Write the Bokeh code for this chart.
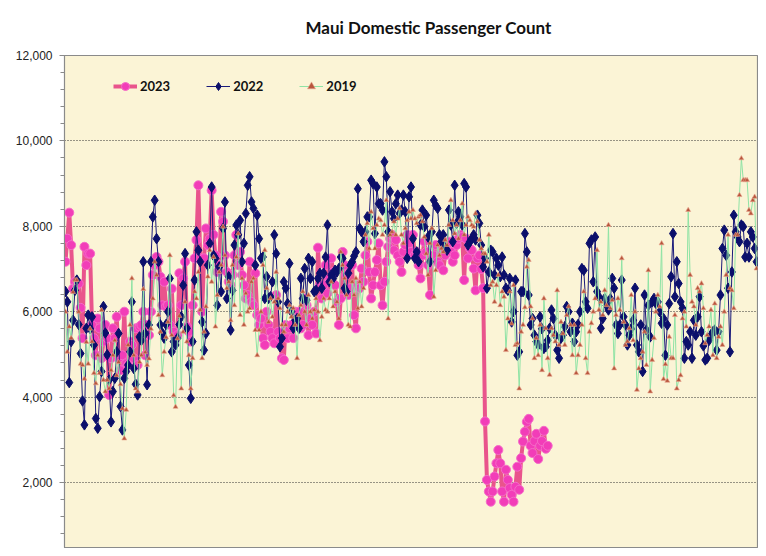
from bokeh.plotting import figure
from bokeh.models import (Range1d, FixedTicker, NumeralTickFormatter, Legend,
                          LegendItem, ColumnDataSource)
from bokeh.embed import file_html
from bokeh.resources import INLINE

title_text = "Maui Domestic Passenger Count"
series_names = ["2023", "2022", "2019"]
y_ticks = [0, 2000, 4000, 6000, 8000, 10000, 12000]

# daily passenger counts (day of year 1..N)
y2023 = [
    7170, 7710, 8320, 7560, 6540, 6700, 6620, 6660, 6090, 5380, 7520, 7090, 7360, 7360, 5690, 5380,
    4980, 5840, 5610, 4910, 5300, 5690, 5380, 4050, 4910, 5610, 5380, 5880, 4910, 4630, 4980, 6000,
    4790, 4750, 5300, 5220, 4910, 5610, 4750, 5650, 5690, 6000, 4980, 5690, 5450, 6000, 6860, 7090,
    7280, 7170, 6820, 6150, 6700, 6120, 6150, 5690, 6540, 5530, 5380, 5450, 6900,
    6150, 6780, 7170, 5650, 5530, 5300, 6150, 7250, 7680, 8960, 7250, 6000, 7250, 7950, 7560, 7710,
    8840, 7800, 7320, 6930, 7090, 8340, 8110, 7320, 6930, 6700, 6620, 6860, 7320, 7800, 7090, 7400,
    6860, 6620, 6310, 6390, 7170, 6230, 6150, 6900, 5920, 5690, 5840, 5380, 5220, 6000, 5690, 5530,
    5380, 5260, 6390, 5530, 5380, 4910, 4870, 5690, 5380, 5610, 5690, 5380, 6000,
    5690, 6000, 5610, 5690, 6310, 6150, 5450, 5840, 5690, 6000, 5490, 7500, 6620, 6310, 6620, 7090,
    6430, 6780, 7250, 6930, 6620, 6230, 5690, 6310, 7400, 7090, 6860, 6390, 6550, 7090, 5920, 5610,
    6620, 6550, 7010, 6700, 7320, 7640, 6930, 6310, 6620, 6930, 7210, 7600, 6620, 6150, 6700, 7170,
    7520, 7710, 7800, 7440, 7680, 7320, 7170, 6930, 7400, 7560, 7800, 7600, 7400,
    7800, 7320, 7400, 7090, 6780, 7320, 7640, 7400, 7090, 6390, 7250, 7320, 7560, 7170, 7090, 7400,
    6970, 7320, 7560, 7640, 7400, 7170, 7320, 7560, 7710, 7800, 7750, 6740, 7710, 7250, 7480, 7440,
    7010, 6500, 7250, 7320, 7000, 6550,
    3430, 2060, 1790, 1550, 1790, 2140, 2450, 2760, 2450, 1790, 1550, 2300, 2060, 1870, 1710, 1550,
    1900, 2370, 1830, 2570, 2960, 3190, 3420,
    3490, 2860, 2690, 2970, 3140, 2550, 2860, 2970, 3210, 2790, 2860,
]

y2022 = [
    6470, 6230, 4340, 5300, 5800, 6500, 6740, 5700, 5020, 3910, 3350, 5610, 5920, 5600, 5880, 5220,
    3500, 3270, 4010, 4600, 6120, 5500, 4990, 4400, 3420, 4130, 4440, 5060, 5490, 3780, 3230, 4440,
    4600, 4750, 5060, 6230, 4670, 4300, 4050, 5410, 5330, 7170, 5490, 4290, 5690, 7170, 8220, 8610,
    7710, 7170, 5690, 5500, 5380, 5700, 6000, 6780, 5060, 5300, 5220, 5380, 5700,
    5880, 6620, 7360, 5610, 4750, 3970, 5300, 6740, 7870, 7440, 7170, 5760, 5100, 5490, 7090, 7600,
    8920, 7320, 7250, 6150, 7050, 6470, 7950, 8570, 6310, 6820, 5570, 6500, 7560, 8030, 7800, 8140,
    7170, 7600, 8300, 8960, 9160, 8570, 8420, 7090, 8260, 7710, 7250, 7280, 6310, 6820, 6310, 6350,
    6700, 7800, 7360, 6230, 5180, 5380, 6700, 6550, 6190, 7130, 6000, 5610, 5800,
    5840, 5610, 6780, 6310, 7010, 6270, 7250, 6780, 7170, 6470, 6500, 6780, 6900, 6550, 6900, 7280,
    8030, 6700, 6860, 6780, 6970, 6930, 7010, 7280, 7250, 6550, 6470, 6900, 7090, 7170, 7300, 7400,
    8880, 7950, 7870, 7640, 7870, 8220, 8220, 9080, 9000, 7830, 8920, 8530, 8530, 8380, 9510, 9160,
    7870, 8810, 8340, 8180, 8530, 8730, 8300, 8380, 8730, 8340, 7250, 8690, 8920,
    7710, 7250, 7400, 7170, 8030, 8380, 7990, 8260, 7750, 7170, 7870, 8610, 8490, 8420, 7800, 7640,
    7800, 7500, 7440, 8380, 8030, 7640, 8960, 8070, 8340, 8220, 8030, 9000, 8920, 7560, 7640, 7710,
    7800, 7680, 8260, 8070, 7560, 7050, 7250, 6550, 6930, 7440, 7400, 6860, 7250, 7090, 6820, 7280,
    6860, 6550, 6500, 6780, 5760, 6000, 6740, 4980, 5060, 6470, 6470, 7830, 7400,
    6390, 5690, 5840, 5450, 5300, 5220, 5880, 5600, 5140, 5180, 5330, 5610, 6040, 5840, 5450, 5100,
    4910, 5380, 5450, 5650, 6120, 6000, 5530, 5730, 5300, 5530, 5700, 6000, 7010, 6970, 6230, 6080,
    7600, 7680, 6700, 7750, 6470, 6350, 5610, 5840, 6310, 6150, 6040, 6300, 6780, 6550, 5690, 5490,
    5690, 6740, 5880, 5690, 5220, 5450, 5600, 5800, 6550, 5220, 5060, 5690, 4600,
    6390, 5570, 6150, 5410, 6230, 6310, 6190, 6230, 6000, 5730, 5840, 4980, 5690, 6190, 6820, 7830,
    6350, 7170, 6660, 6230, 6080, 4910, 5300, 5220, 5530, 4910, 5800, 5450, 5880, 6350, 5530, 5200,
    4870, 4910, 5330, 5450, 5530, 5570, 5100, 5530, 6390, 7480, 7910, 7320, 6550, 5060, 6930, 8260,
    7870, 7750, 7640, 8030, 7990, 7280, 7600, 7280, 7870, 7750, 7480, 7170,
]

y2019 = [
    6000, 5060, 5650, 5380, 6460, 6740, 6740, 6000, 4780, 4750, 4430, 5290, 4780, 5600, 5300, 4560,
    4320, 4980, 4560, 6040, 4400, 4130, 4400, 4200, 4630, 4980, 5330, 4510, 4820, 4300, 3730, 3030,
    3700, 5220, 5690, 6780, 4980, 4200, 4130, 4820, 4980, 6530, 5050, 4750, 4900, 5600, 6310, 7170,
    6860, 5920, 5530, 4510, 5060, 5400, 5760, 7320, 5450, 4040, 3770, 5370, 5900,
    4200, 5530, 6230, 5300, 4980, 4200, 4910, 6470, 6310, 6930, 6040, 4910, 5530, 6120, 6820, 7440,
    6700, 7280, 5650, 6390, 6930, 7090, 7990, 7320, 6550, 6700, 5800, 7090, 6150, 7280, 7830, 5920,
    6780, 5690, 6430, 6000, 6080, 6700, 6780, 5570, 4980, 5570, 6000, 7090, 7440, 6550, 5760, 6310,
    5880, 6230, 6930, 6310, 6080, 5690, 5530, 5690, 6000, 6150, 5880, 6080, 5690,
    4910, 5920, 6150, 6470, 6000, 5690, 6390, 6000, 5840, 6040, 6310, 6000, 5330, 5880, 6310, 6040,
    6000, 6310, 6700, 6120, 6470, 6230, 5840, 7400, 7090, 6780, 6390, 5690, 5650, 6700, 6390, 6780,
    6080, 6700, 6120, 6550, 7800, 8070, 7480, 8340, 7950, 7480, 8030, 8180, 8140, 7800, 8030, 8610,
    5840, 7800, 7870, 8110, 7800, 8180, 8420, 7800, 7600, 7950, 8140, 8340, 8180,
    8380, 8180, 8070, 8220, 8260, 8110, 7750, 7360, 6860, 7600, 7950, 6350, 6970, 7560, 7320, 7480,
    7400, 7680, 7560, 8030, 8610, 8140, 7830, 8030, 7710, 8140, 8530, 7800, 8030, 8220, 8140, 8030,
    7990, 8300, 8110, 7680, 7480, 7360, 7360, 7170, 7800, 6620, 6700, 6230, 6620, 6860, 6150, 6470,
    6350, 5100, 5840, 6470, 5720, 6620, 5220, 5260, 4200, 5530, 5690, 6100, 7050,
    7210, 6120, 5840, 4910, 5380, 4980, 5690, 4630, 6310, 5610, 4910, 4520, 5610, 5450, 5300, 6500,
    5220, 5760, 5490, 5220, 5920, 6120, 5690, 4980, 5690, 4560, 4980, 5220, 5690, 6470, 4910, 4560,
    5530, 5730, 6000, 6310, 7440, 6040, 6230, 5920, 6500, 6150, 8030, 6080, 6270, 4670, 5920, 6310,
    6040, 7250, 5760, 5220, 5300, 5610, 6390, 5330, 6000, 4170, 4670, 4910,
    5060, 5530, 4750, 6970, 4130, 4870, 5380, 6000, 6390, 6120, 7600, 4420, 4770, 4380, 5410, 4910,
    4910, 5920, 4200, 4400, 4510, 5840, 6000, 5650, 8380, 6860, 6230, 6120, 5690, 6550, 6470, 6660,
    6080, 5260, 5450, 5650, 6040, 4980, 6190, 4910, 5410, 5650, 5220, 6000, 6860, 7800, 6550, 6500,
    6080, 7800, 7800, 8730, 9590, 9080, 9080, 9080, 8380, 8300, 8610, 8690, 7010,
]

src23 = ColumnDataSource(dict(day=list(range(1, len(y2023) + 1)), v=y2023))
src22 = ColumnDataSource(dict(day=list(range(1, len(y2022) + 1)), v=y2022))
src19 = ColumnDataSource(dict(day=list(range(1, len(y2019) + 1)), v=y2019))

p = figure(width=758, height=548, output_backend="svg", toolbar_location=None,
           x_range=Range1d(0.5, 365.5), y_range=Range1d(454, 12000),
           x_axis_location=None, title=title_text,
           min_border_left=64, min_border_right=1, min_border_top=55, min_border_bottom=0)

p.background_fill_color = "#FBF4D6"
p.border_fill_color = "white"
p.outline_line_color = "#8a8a8a"
p.outline_line_width = 1.2

p.title.text_font = "Lato"
p.title.text_font_size = "17px"
p.title.text_font_style = "bold"
p.title.text_color = "#111111"
p.title.align = "left"
p.title.offset = 241
p.title.vertical_align = "top"
p.title.standoff = 31

p.xgrid.visible = False
p.ygrid.grid_line_color = "#333333"
p.ygrid.grid_line_dash = "1 2"
p.ygrid.grid_line_width = 1

ax = p.yaxis[0]
ax.ticker = FixedTicker(ticks=y_ticks, minor_ticks=list(range(0, 12001, 400)))
ax.formatter = NumeralTickFormatter(format="0,0")
ax.major_label_text_font = "Liberation Sans"
ax.major_label_text_font_size = "12px"
ax.major_label_text_color = "#222222"
ax.axis_line_color = "#8a8a8a"
ax.major_tick_line_color = "#8a8a8a"
ax.minor_tick_line_color = "#8a8a8a"
ax.major_tick_in = 0
ax.major_tick_out = 5
ax.minor_tick_in = 0
ax.minor_tick_out = 4
ax.major_label_standoff = 7

l23 = p.line("day", "v", source=src23, line_color="#E9548C", line_width=4)
s23 = p.scatter("day", "v", source=src23, marker="circle", size=9,
                fill_color="#F23DB8", line_color="#F56BC8", line_width=1)
l22 = p.line("day", "v", source=src22, line_color="#1A1A7A", line_width=1)
s22 = p.scatter("day", "v", source=src22, marker="diamond", size=10.5,
                fill_color="#0B0F6B", line_color="#0B0F6B")
l19 = p.line("day", "v", source=src19, line_color="#8FE3A5", line_width=1)
s19 = p.scatter("day", "v", source=src19, marker="triangle", size=5,
                fill_color="#B8553C", line_color="#E7A58F", line_width=0.6)

legend = Legend(items=[LegendItem(label=series_names[0], renderers=[l23, s23]),
                       LegendItem(label=series_names[1], renderers=[l22, s22]),
                       LegendItem(label=series_names[2], renderers=[l19, s19])],
                location=(49, 452), orientation="horizontal",
                glyph_width=24, glyph_height=20, label_standoff=3, spacing=36,
                padding=0, margin=0, background_fill_alpha=0, border_line_alpha=0,
                label_text_font="Lato", label_text_font_size="13px",
                label_text_font_style="bold", label_text_color="#111111")
p.add_layout(legend)

open("out.html", "w").write(file_html(p, INLINE))
